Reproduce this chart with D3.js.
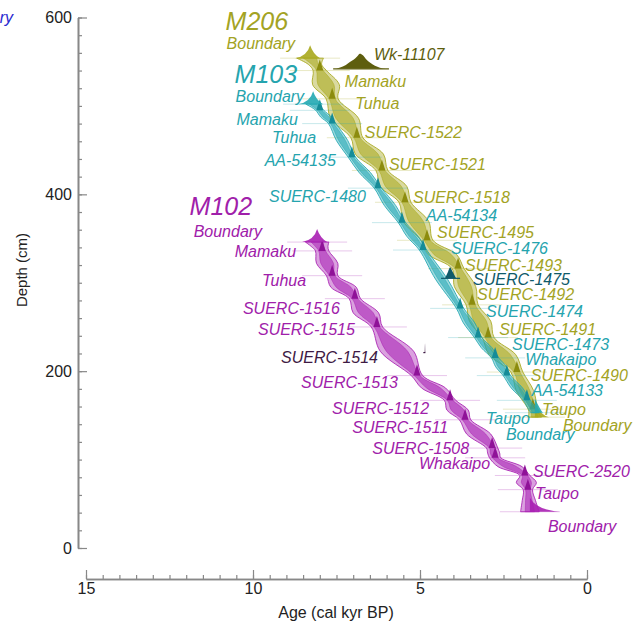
<!DOCTYPE html>
<html>
<head>
<meta charset="utf-8">
<script src="https://cdn.jsdelivr.net/npm/d3@7"></script>
<style>
  body { margin: 0; background: #fff; }
  text { font-family: "Liberation Sans", Arial, sans-serif; }
</style>
</head>
<body>
<svg width="636" height="624"></svg>
<script>
// axis ticks
const ageMajor = [15, 10, 5, 0];
const depthMajor = [0, 200, 400, 600];

// M206 sequence
const m206Labels = ["Boundary", "Mamaku", "Tuhua", "SUERC-1522", "SUERC-1521", "SUERC-1518", "SUERC-1495",
  "SUERC-1493", "SUERC-1492", "SUERC-1491", "SUERC-1490", "Taupo", "Boundary"];
const m206Depth = [554, 540, 508, 464, 427, 391, 348, 316, 275, 238, 199, 157, 148];
const m206Age = [8.29, 8.0, 7.63, 6.89, 6.14, 5.45, 4.79, 3.86, 3.44, 2.96, 2.10, 1.62, 1.56];
const m206Node95 = [0.4, 0.2, 0.18, 0.18, 0.18, 0.18, 0.18, 0.18, 0.18, 0.18, 0.18, 0.14, 0.2];
const m206Gap95 = [0.2, 0.4, 0.42, 0.42, 0.4, 0.38, 0.42, 0.32, 0.32, 0.4, 0.26, 0.15];
const m206Node68 = [0.2, 0.1, 0.09, 0.09, 0.09, 0.09, 0.09, 0.09, 0.09, 0.09, 0.09, 0.07, 0.1];
const m206Gap68 = [0.1, 0.24, 0.26, 0.26, 0.24, 0.22, 0.26, 0.19, 0.19, 0.24, 0.15, 0.08];

// M103 sequence
const m103Labels = ["Boundary", "Mamaku", "Tuhua", "AA-54135", "SUERC-1480", "AA-54134", "SUERC-1476",
  "SUERC-1474", "SUERC-1473", "Whakaipo", "AA-54133", "Taupo", "Boundary"];
const m103Depth = [502, 495, 480, 442, 407, 368, 337, 271, 238, 215, 195, 167, 153];
const m103Age = [8.2, 8.0, 7.63, 7.04, 6.26, 5.54, 4.91, 3.80, 3.26, 2.75, 2.40, 1.80, 1.56];
const m103Node95 = [0.22, 0.12, 0.11, 0.11, 0.11, 0.11, 0.11, 0.11, 0.11, 0.11, 0.11, 0.1, 0.12];
const m103Gap95 = [0.15, 0.16, 0.17, 0.17, 0.17, 0.17, 0.18, 0.17, 0.16, 0.16, 0.17, 0.12];
const m103Node68 = [0.11, 0.06, 0.05, 0.05, 0.05, 0.05, 0.05, 0.05, 0.05, 0.05, 0.05, 0.05, 0.06];
const m103Gap68 = [0.08, 0.09, 0.1, 0.1, 0.1, 0.1, 0.1, 0.1, 0.09, 0.09, 0.1, 0.06];

// M102 sequence
const m102Labels = ["Boundary", "Mamaku", "Tuhua", "SUERC-1516", "SUERC-1515", "SUERC-1513", "SUERC-1512",
  "SUERC-1511", "SUERC-1508", "Whakaipo", "SUERC-2520", "Taupo", "Boundary"];
const m102Depth = [346, 336, 308, 282, 250, 195, 167, 145, 113, 102, 82, 66, 41];
const m102Age = [8.08, 7.93, 7.63, 6.95, 6.29, 5.09, 4.10, 3.65, 2.84, 2.75, 1.86, 1.77, 1.71];
const m102Node95 = [0.35, 0.2, 0.17, 0.17, 0.17, 0.17, 0.17, 0.17, 0.17, 0.17, 0.15, 0.14, 0.28];
const m102Gap95 = [0.25, 0.32, 0.38, 0.38, 0.5, 0.36, 0.32, 0.36, 0.18, 0.36, 0.3, 0.2];
const m102Node68 = [0.18, 0.1, 0.08, 0.08, 0.08, 0.08, 0.08, 0.08, 0.08, 0.08, 0.08, 0.07, 0.14];
const m102Gap68 = [0.13, 0.19, 0.22, 0.22, 0.32, 0.21, 0.19, 0.21, 0.1, 0.2, 0.15, 0.1];

// outlier dates drawn on their own (likelihood shapes)
const wkAges = [7.51, 7.37, 7.22, 7.10, 6.98, 6.89, 6.80, 6.71, 6.62, 6.50, 6.35, 6.20, 6.02];
const wkProb = [0, 0.1, 0.25, 0.45, 0.62, 0.8, 1, 0.9, 0.66, 0.42, 0.2, 0.07, 0];
const s1475Ages = [4.25, 4.16, 4.10, 4.04, 3.92];
const s1475Prob = [0, 0.6, 1, 0.7, 0];
const s1514Ages = [4.90, 4.86, 4.85, 4.84];
const s1514Prob = [0, 0, 1, 0];

// label placement [anchor, dx, dy] in px relative to each node
const m206Place = [["end", -15, -9], ["start", 25, 16], ["start", 23, 10], ["start", 8, 0], ["start", 7, 0],
  ["start", 8, 1], ["start", 10, -2], ["start", 7, 2], ["start", 5, -5], ["start", 11, -3], ["start", 14, 9],
  ["start", 9, 6], ["start", 28, 14]];
const m103Place = [["end", -9, -2], ["end", -22, 15], ["end", -16, 19], ["end", -16, 9], ["end", -12, 14],
  ["start", 24, -2], ["start", 28, 4], ["start", 26, 9], ["start", 34, 12], ["start", 30, 7], ["start", 25, 20],
  ["end", 3, 24], ["start", -29, 27]];
const m102Place = [["end", -55, -5], ["end", -26, 6], ["end", -26, 10], ["end", -15, 15], ["end", -22, 8],
  ["end", -19, 12], ["end", -21, 14], ["end", -17, 13], ["end", -23, 6], ["end", -5, 11], ["start", 8, 2],
  ["start", 7, 9], ["start", 18, 20]];

const svg = d3.select("svg");

const x = d3.scaleLinear().domain([15, 0]).range([86, 587]);
const y = d3.scaleLinear().domain([0, 600]).range([548, 17.5]);

// axes
const axisColor = "#888";
const yAxis = svg.append("g").attr("transform", "translate(78,0)");
yAxis.call(d3.axisLeft(y).tickValues(d3.range(0, 601, 20)).tickSizeInner(-4).tickSizeOuter(0).tickFormat(""));
yAxis.append("g").call(d3.axisLeft(y).tickValues(depthMajor).tickSizeInner(-9).tickSizeOuter(0).tickPadding(6));
yAxis.selectAll("path.domain").attr("stroke", axisColor).attr("stroke-width", 1.6);
yAxis.selectAll("line").attr("stroke", axisColor).attr("stroke-width", 1.2);
yAxis.selectAll("text").attr("font-size", 16).attr("fill", "#222").attr("font-family", "Liberation Sans, Arial");

const xAxis = svg.append("g").attr("transform", "translate(0,579)");
xAxis.call(d3.axisBottom(x).tickValues(d3.range(0, 15.01, 0.5)).tickSizeInner(-4).tickSizeOuter(0).tickFormat(""));
xAxis.append("g").call(d3.axisBottom(x).tickValues(ageMajor).tickSizeInner(-9).tickSizeOuter(0).tickPadding(4));
xAxis.selectAll("path.domain").attr("stroke", axisColor).attr("stroke-width", 1.6);
xAxis.selectAll("line").attr("stroke", axisColor).attr("stroke-width", 1.2);
xAxis.selectAll("text").attr("font-size", 16).attr("fill", "#222").attr("font-family", "Liberation Sans, Arial");

svg.append("text").attr("x", 336).attr("y", 618).attr("text-anchor", "middle")
  .attr("font-size", 16).attr("fill", "#222").text("Age (cal kyr BP)");
svg.append("text").attr("transform", "translate(27,270) rotate(-90)").attr("text-anchor", "middle")
  .attr("font-size", 15).attr("fill", "#222").text("Depth (cm)");

// clipped label from a neighbouring panel
svg.append("text").attr("x", 13).attr("y", 23).attr("text-anchor", "end")
  .attr("font-size", 16).attr("font-style", "italic").attr("fill", "#2a2ad0").text("Boundary");

// build points for the band: nodes plus the bulge between them
function bandPoints(depth, age, n95, g95, n68, g68) {
  const pts = [];
  depth.forEach(function (d, i) {
    pts.push({ d: d, a: age[i], w95: n95[i], w68: n68[i] });
    if (i < depth.length - 1) {
      pts.push({ d: (d + depth[i + 1]) / 2, a: (age[i] + age[i + 1]) / 2, w95: g95[i], w68: g68[i] });
    }
  });
  return pts;
}

function drawSequence(cfg) {
  const g = svg.append("g");
  const pts = bandPoints(cfg.depth, cfg.age, cfg.n95, cfg.g95, cfg.n68, cfg.g68);
  const nodes = cfg.depth.map(function (d, i) { return { d: d, a: cfg.age[i], label: cfg.labels[i], place: cfg.place[i] }; });

  // horizontal guide lines at each dated depth
  g.selectAll("line.guide").data(nodes).join("line")
    .attr("x1", (d) => x(d.a) - 30).attr("x2", (d) => x(d.a) + 30)
    .attr("y1", (d) => y(d.d)).attr("y2", (d) => y(d.d))
    .attr("stroke", cfg.color).attr("stroke-opacity", 0.25).attr("stroke-width", 1);

  const area95 = d3.area().curve(d3.curveCatmullRom.alpha(0.5))
    .y((d) => y(d.d)).x0((d) => x(d.a + d.w95)).x1((d) => x(d.a - d.w95));
  const area68 = d3.area().curve(d3.curveCatmullRom.alpha(0.5))
    .y((d) => y(d.d)).x0((d) => x(d.a + d.w68)).x1((d) => x(d.a - d.w68));

  g.append("path").attr("d", area95(pts))
    .attr("fill", cfg.color).attr("fill-opacity", 0.42)
    .attr("stroke", cfg.color).attr("stroke-opacity", 0.85).attr("stroke-width", 1);
  g.append("path").attr("d", area68(pts))
    .attr("fill", cfg.color).attr("fill-opacity", 0.55)
    .attr("stroke", cfg.color).attr("stroke-opacity", 0.6).attr("stroke-width", 0.8);

  // small likelihood markers at each date
  g.selectAll("path.mark").data(nodes.slice(1, -1)).join("path")
    .attr("d", function (d) {
      const cx = x(d.a), cy = y(d.d);
      return "M" + (cx - 3.5) + "," + cy + "L" + cx + "," + (cy - 11) + "L" + (cx + 3.5) + "," + cy + "Z";
    })
    .attr("fill", cfg.dark);

  // boundary shapes at the two ends
  const top = nodes[0], bot = nodes[nodes.length - 1];
  const tx = x(top.a), ty = y(top.d);
  g.append("path")
    .attr("d", "M" + (tx - 15) + "," + ty + "Q" + (tx - 3) + "," + (ty - 2) + " " + tx + "," + (ty - 13) +
      "Q" + (tx + 3) + "," + (ty - 4) + " " + (tx + 10) + "," + ty + "Z")
    .attr("fill", cfg.color).attr("fill-opacity", 0.9);
  const bx = x(bot.a), by = y(bot.d);
  g.append("path")
    .attr("d", "M" + bx + "," + (by - 14) + "L" + bx + "," + by + "L" + (bx + cfg.tail) + "," + by +
      "Q" + (bx + 6) + "," + (by - 2) + " " + bx + "," + (by - 14) + "Z")
    .attr("fill", cfg.color).attr("fill-opacity", 0.9);

  // labels
  g.selectAll("text.lab").data(nodes).join("text")
    .attr("x", (d) => x(d.a) + d.place[1]).attr("y", (d) => y(d.d) + d.place[2])
    .attr("text-anchor", (d) => d.place[0])
    .attr("font-size", 16).attr("font-style", "italic").attr("fill", cfg.text)
    .text((d) => d.label);

  g.append("text").attr("x", tx + cfg.title[0]).attr("y", ty + cfg.title[1]).attr("text-anchor", "end")
    .attr("font-size", 25).attr("font-style", "italic").attr("fill", cfg.text).text(cfg.name);
}

// single likelihood drawn outside a band
function drawOutlier(ages, prob, depth, h, color, label, place, extra) {
  const base = y(depth);
  const line = d3.line().curve(d3.curveMonotoneX).x((d, i) => x(ages[i])).y((d) => base - d * h);
  svg.append("line").attr("x1", x(ages[0]) + extra).attr("x2", x(ages[ages.length - 1]) - extra)
    .attr("y1", base).attr("y2", base).attr("stroke", color).attr("stroke-width", 1.2);
  svg.append("path").attr("d", line(prob) + "Z").attr("fill", color);
  const peak = x(ages[prob.indexOf(1)]);
  svg.append("text").attr("x", peak + place[1]).attr("y", base + place[2]).attr("text-anchor", place[0])
    .attr("font-size", 16).attr("font-style", "italic").attr("fill", color).text(label);
}

drawSequence({ name: "M206", labels: m206Labels, depth: m206Depth, age: m206Age, n95: m206Node95, g95: m206Gap95,
  n68: m206Node68, g68: m206Gap68, place: m206Place, color: "#a8a81c", dark: "#8c8c0e", text: "#a3a324",
  tail: 14, title: [-22, -28] });
drawSequence({ name: "M103", labels: m103Labels, depth: m103Depth, age: m103Age, n95: m103Node95, g95: m103Gap95,
  n68: m103Node68, g68: m103Gap68, place: m103Place, color: "#22a8b3", dark: "#158c98", text: "#25a4ae",
  tail: 8, title: [-16, -21] });
drawSequence({ name: "M102", labels: m102Labels, depth: m102Depth, age: m102Age, n95: m102Node95, g95: m102Gap95,
  n68: m102Node68, g68: m102Gap68, place: m102Place, color: "#a81fb2", dark: "#8f1298", text: "#a020aa",
  tail: 30, title: [-65, -27] });

drawOutlier(wkAges, wkProb, 542, 15, "#5e5e0e", "Wk-11107", ["start", 14, -9], -3);
drawOutlier(s1475Ages, s1475Prob, 305, 11, "#0f5a6a", "SUERC-1475", ["start", 23, 7], -4);
drawOutlier(s1514Ages, s1514Prob, 221, 9, "#3e1a44", "SUERC-1514", ["end", -47, 10], 0);
</script>
</body>
</html>
